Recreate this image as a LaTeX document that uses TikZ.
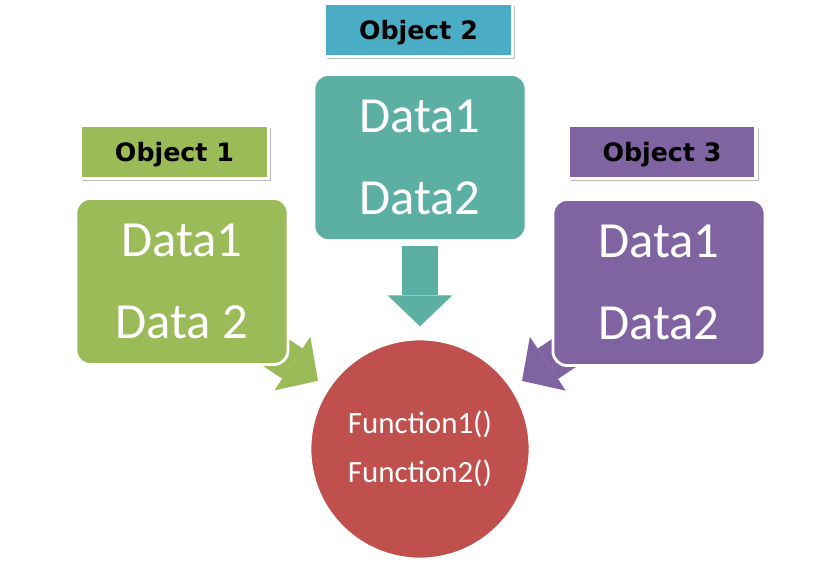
\documentclass[tikz,border=0pt]{standalone}
\usepackage{fontspec}
\setmainfont{Carlito}
\newfontfamily\objfont{DejaVu Sans}
\usetikzlibrary{arrows.meta,positioning,shadows,backgrounds}
\definecolor{objgreen}{RGB}{155,187,89}
\definecolor{objblue}{RGB}{75,172,198}
\definecolor{objteal}{RGB}{91,175,163}
\definecolor{objpurple}{RGB}{128,100,162}
\definecolor{funcred}{RGB}{192,80,77}
\pgfdeclarelayer{canvas}
\pgfsetlayers{canvas,background,main}

\begin{document}
\begin{tikzpicture}[x=0.025cm, y=-0.025cm,
    labelbox/.style={draw=white, line width=2.5pt, minimum width=4.7cm, minimum height=1.32cm,
        inner sep=0pt, text height=13pt, text depth=0pt, text=black,
        font=\objfont\bfseries\fontsize{18}{20}\selectfont,
        drop shadow={shadow xshift=2pt, shadow yshift=-2pt, fill=black!45, opacity=0.6}},
    databox/.style={draw=white, line width=2pt, rounded corners=10pt, minimum width=5.3cm,
        minimum height=4.15cm, align=center, text=white, font=\fontsize{36}{58}\selectfont},
    blockarrow/.style={line width=26pt, -{Triangle[length=22pt, width=46pt, line width=0pt]},
        shorten >=8pt}
]
    % Canvas
    \begin{pgfonlayer}{canvas}
        \fill[white] (0,0) rectangle (840,564);
    \end{pgfonlayer}
    \useasboundingbox (0,0) rectangle (840,564);

    % Data boxes
    \node[databox, fill=objgreen]  (g) at (182,281.5) {Data1\\Data 2};
    \node[databox, fill=objteal]   (t) at (420,157.5) {Data1\\Data2};
    \node[databox, fill=objpurple] (p) at (659,282.5) {Data1\\Data2};

    % Object labels
    \node[labelbox, fill=objgreen]  (o1) at (174.5,152) {Object 1};
    \node[labelbox, fill=objblue]   (o2) at (418.5,30)  {Object 2};
    \node[labelbox, fill=objpurple] (o3) at (662,152)   {Object 3};

    % Functions
    \node[circle, draw=white, line width=2pt, fill=funcred, minimum size=5.5cm,
          align=center, text=white, font=\fontsize{22}{35}\selectfont]
          (fn) at (420,449) {Function1()\\Function2()};

    % Arrows into the functions
    \begin{scope}[on background layer]
        \draw[blockarrow, objgreen] ([shift={(-22,-19)}]g.south east) -- (fn);
        \draw[blockarrow, objpurple] ([shift={(20,-19)}]p.south west) -- (fn);
    \end{scope}
    \draw[blockarrow, objteal, shorten <=3pt] (t.south) -- (fn);
\end{tikzpicture}
\end{document}
